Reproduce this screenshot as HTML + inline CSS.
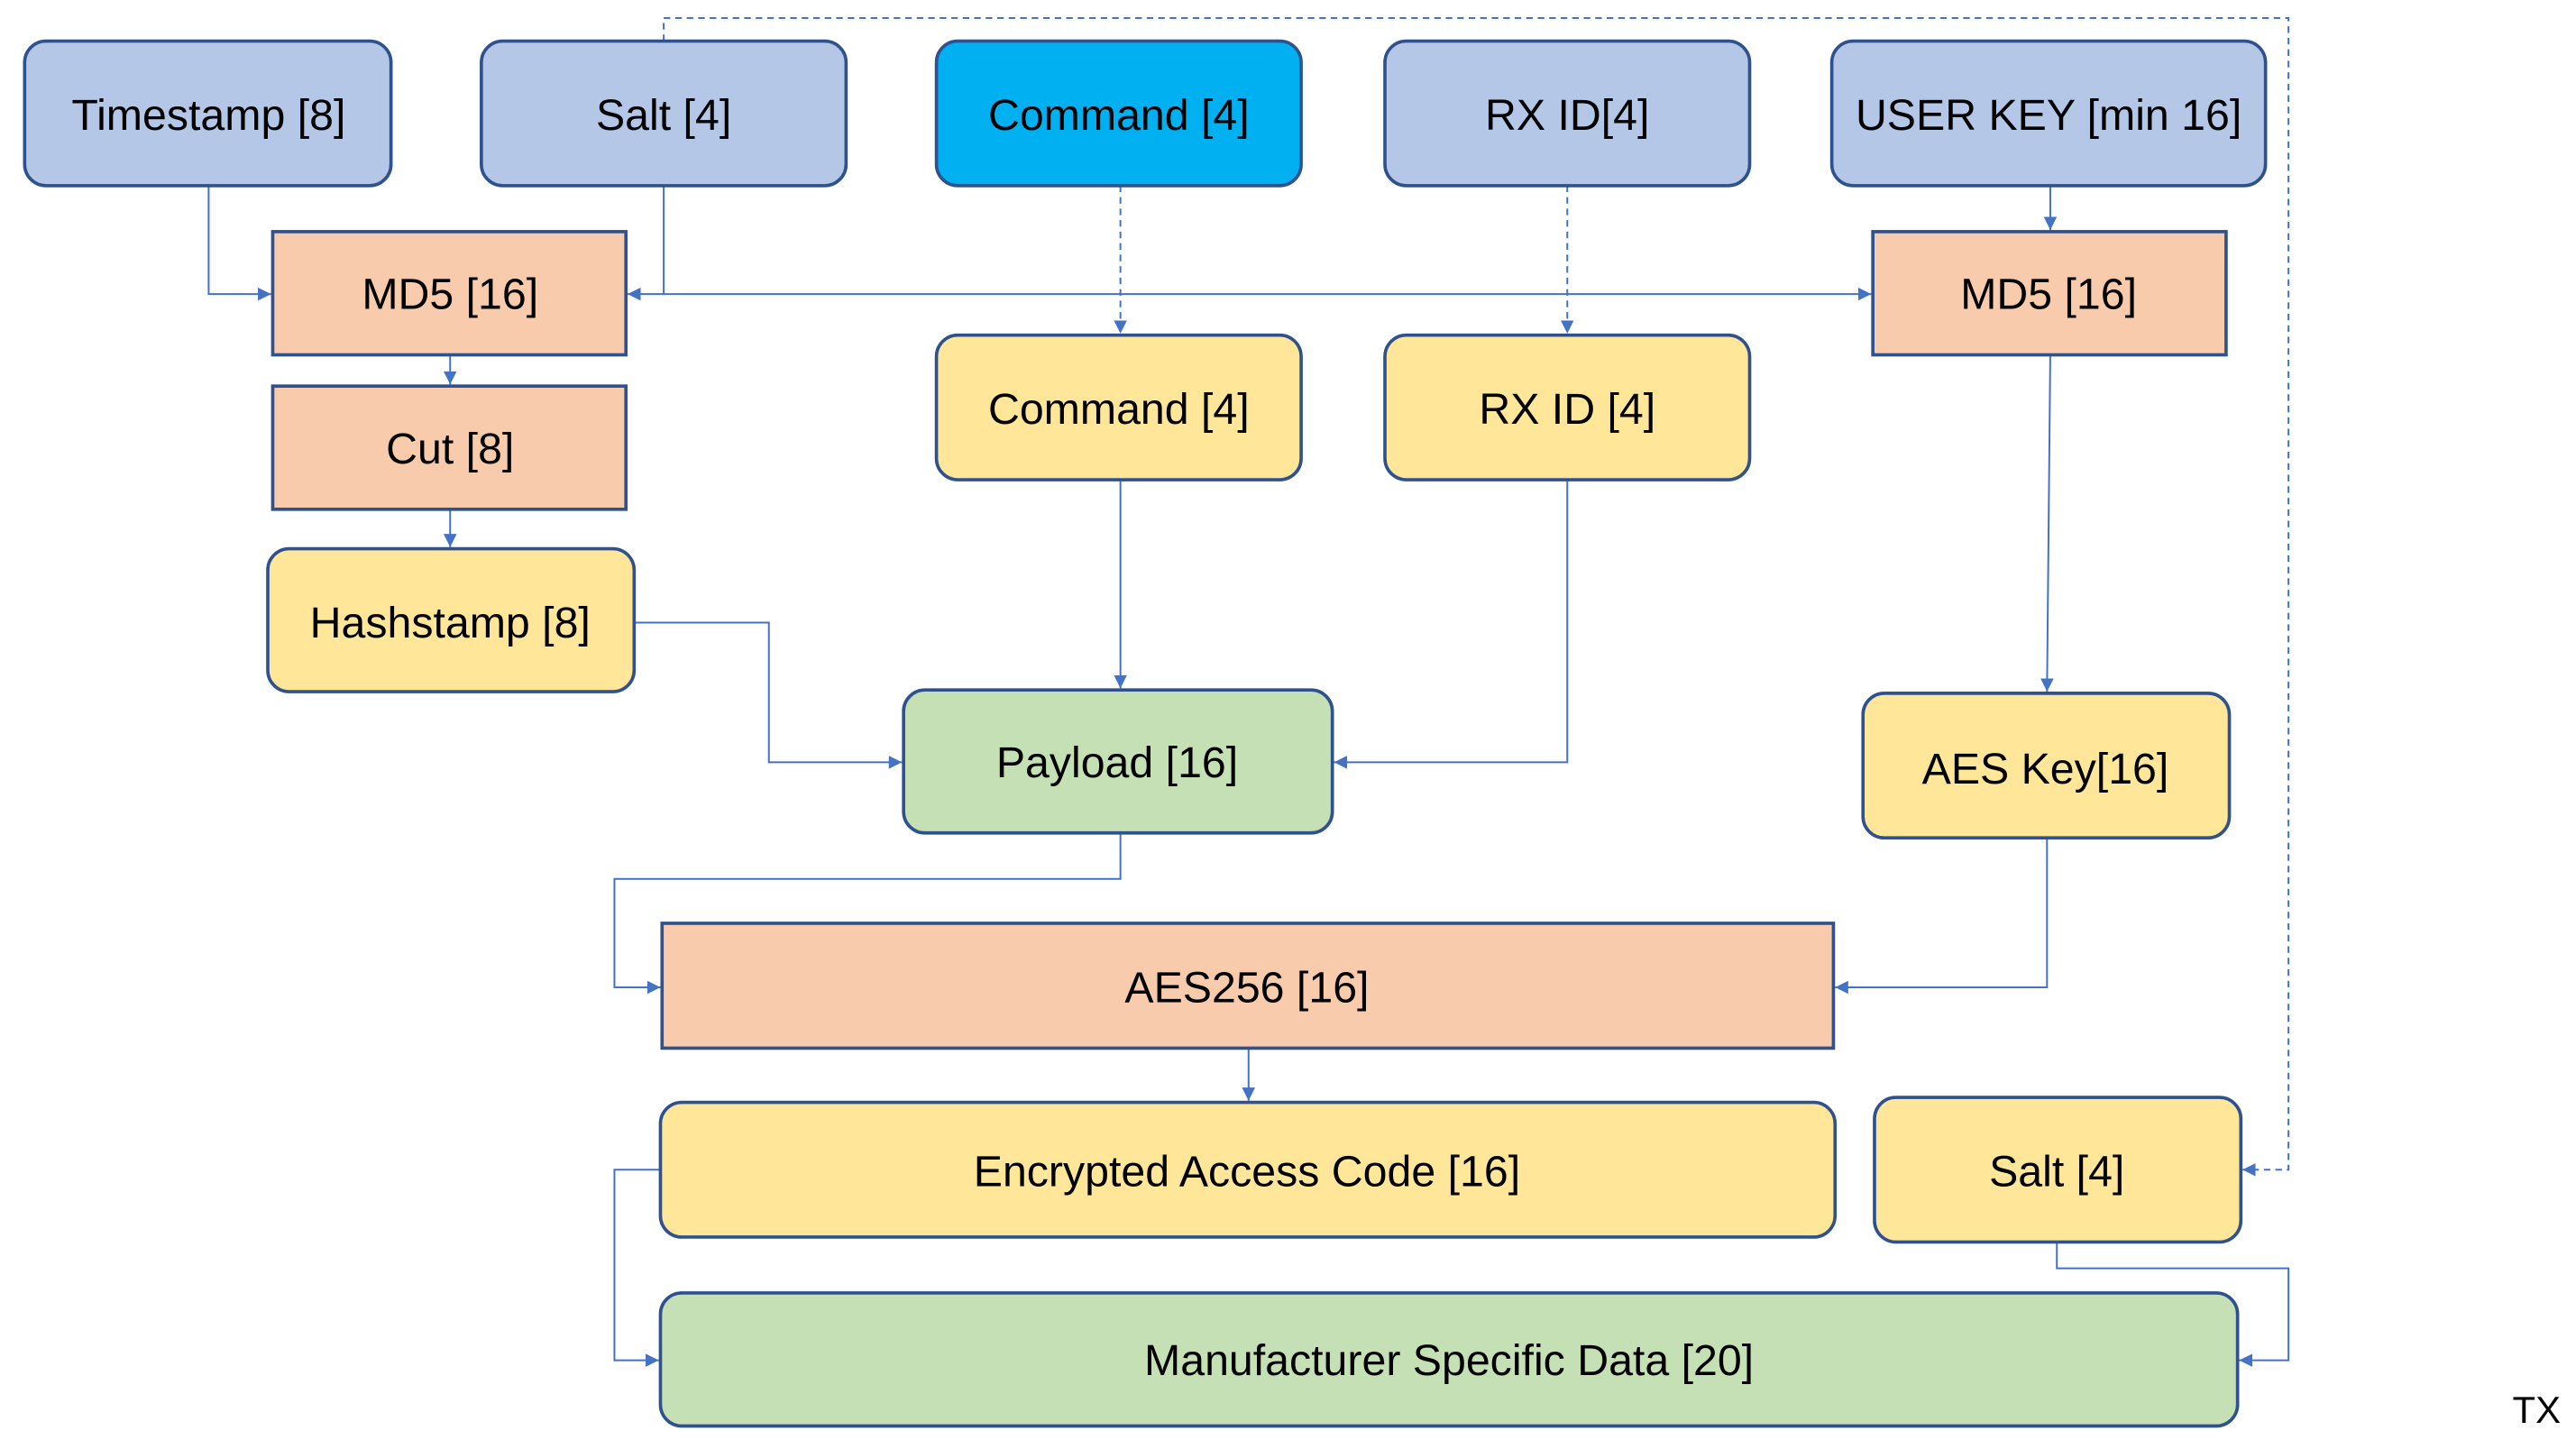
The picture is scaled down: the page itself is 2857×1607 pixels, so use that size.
<!DOCTYPE html>
<html><head><meta charset="utf-8"><style>html,body{margin:0;padding:0;background:#fff}svg{display:block}</style></head>
<body>
<svg width="2857" height="1607" viewBox="0 0 1568 882" preserveAspectRatio="none" xmlns="http://www.w3.org/2000/svg">
<defs>
<marker id="a" viewBox="0 0 10 10" refX="10" refY="5" markerWidth="8" markerHeight="8" markerUnits="userSpaceOnUse" orient="auto"><path d="M0,0 L10,5 L0,10 z" fill="#4472C4"/></marker>
</defs>
<g fill="none" stroke="#4472C4" stroke-width="1.1">
<path d="M127,113 V179 H165" marker-end="url(#a)"/>
<path d="M404,113 V179 H382" marker-end="url(#a)"/>
<path d="M404,179 H1139" marker-end="url(#a)"/>
<path d="M404,25 V11 H1393 V712 H1365" stroke-dasharray="4,3" marker-end="url(#a)"/>
<path d="M682,113 V203" stroke-dasharray="4,3" marker-end="url(#a)"/>
<path d="M954,113 V203" stroke-dasharray="4,3" marker-end="url(#a)"/>
<path d="M1248,113 V140" marker-end="url(#a)"/>
<path d="M274,216 V234" marker-end="url(#a)"/>
<path d="M274,310 V333" marker-end="url(#a)"/>
<path d="M386,379 H468 V464 H549" marker-end="url(#a)"/>
<path d="M682,292 V419" marker-end="url(#a)"/>
<path d="M954,292 V464 H812" marker-end="url(#a)"/>
<path d="M1248,216 L1246,421" marker-end="url(#a)"/>
<path d="M682,507 V535 H374 V601 H402" marker-end="url(#a)"/>
<path d="M1246,510 V601 H1117" marker-end="url(#a)"/>
<path d="M760,638 V670" marker-end="url(#a)"/>
<path d="M402,712 H374 V828 H401" marker-end="url(#a)"/>
<path d="M1252,756 V772 H1393 V828 H1363" marker-end="url(#a)"/>
</g>
<g stroke="#2F528F" stroke-width="2">
<rect x="15" y="25" width="223" height="88" rx="13" fill="#B4C7E7"/>
<rect x="293" y="25" width="222" height="88" rx="13" fill="#B4C7E7"/>
<rect x="570" y="25" width="222" height="88" rx="13" fill="#00B0F0"/>
<rect x="843" y="25" width="222" height="88" rx="13" fill="#B4C7E7"/>
<rect x="1115" y="25" width="264" height="88" rx="13" fill="#B4C7E7"/>
<rect x="166" y="141" width="215" height="75" fill="#F8CBAD"/>
<rect x="166" y="235" width="215" height="75" fill="#F8CBAD"/>
<rect x="163" y="334" width="223" height="87" rx="13" fill="#FFE699"/>
<rect x="570" y="204" width="222" height="88" rx="13" fill="#FFE699"/>
<rect x="843" y="204" width="222" height="88" rx="13" fill="#FFE699"/>
<rect x="1140" y="141" width="215" height="75" fill="#F8CBAD"/>
<rect x="550" y="420" width="261" height="87" rx="13" fill="#C5E0B4"/>
<rect x="1134" y="422" width="223" height="88" rx="13" fill="#FFE699"/>
<rect x="403" y="562" width="713" height="76" fill="#F8CBAD"/>
<rect x="402" y="671" width="715" height="82" rx="13" fill="#FFE699"/>
<rect x="1141" y="668" width="223" height="88" rx="13" fill="#FFE699"/>
<rect x="402" y="787" width="960" height="81" rx="13" fill="#C5E0B4"/>
</g>
<g font-family="'Liberation Sans', sans-serif" font-size="26.5" fill="#000" text-anchor="middle">
<text x="127" y="79">Timestamp [8]</text>
<text x="404" y="79">Salt [4]</text>
<text x="681" y="79">Command [4]</text>
<text x="954" y="79">RX ID[4]</text>
<text x="1247" y="79">USER KEY [min 16]</text>
<text x="274" y="188">MD5 [16]</text>
<text x="274" y="282">Cut [8]</text>
<text x="274" y="388">Hashstamp [8]</text>
<text x="681" y="258">Command [4]</text>
<text x="954" y="258">RX ID [4]</text>
<text x="1247" y="188">MD5 [16]</text>
<text x="680" y="473">Payload [16]</text>
<text x="1245" y="477">AES Key[16]</text>
<text x="759" y="610">AES256 [16]</text>
<text x="759" y="722">Encrypted Access Code [16]</text>
<text x="1252" y="722">Salt [4]</text>
<text x="882" y="837">Manufacturer Specific Data [20]</text>
<text x="1544" y="866" font-size="23">TX</text>
</g>
</svg>
</body></html>
